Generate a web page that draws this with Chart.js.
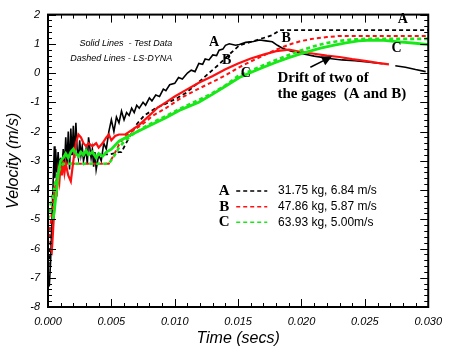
<!DOCTYPE html>
<html>
<head>
<meta charset="utf-8">
<script src="https://cdn.jsdelivr.net/npm/chart.js@4/dist/chart.umd.min.js"></script>
<style>
  body { margin: 0; background: #fff; }
  canvas { display: block; }
</style>
</head>
<body>
<canvas id="velocityChart" width="450" height="353"></canvas>
<script>
// times in milliseconds, velocities in m/s

// A - test data (black solid); null = gap in the trace
const timeA = [0.1, 0.2, 0.3, 0.4, 0.5, 0.55, 0.6, 0.7, 0.8, 0.9, 1.0, 1.1, 1.2, 1.3, 1.4, 1.5, 1.6, 1.7, 1.8, 1.9,
  2.0, 2.1, 2.2, 2.3, 2.4, 2.5, 2.6, 2.7, 2.8, 3.0, 3.1, 3.2, 3.4, 3.5, 3.6, 3.7, 3.8, 4.0, 4.2, 4.4,
  4.6, 4.8, 5.0, 5.2, 5.4, 5.6, 5.8, 6.0, 6.2, 6.4, 6.6, 6.8, 7.0, 7.2, 7.5, 7.7, 8.0, 8.2, 8.5, 8.8,
  9.1, 9.3, 9.6, 10.0, 10.3, 10.6, 11.0, 11.3, 11.6, 11.9, 12.2, 12.4, 12.7, 13.0, 13.3, 13.5, 13.8, 14.0, 14.3, 14.8,
  15.1, 15.6, 16.2, 16.7, 17.2, 17.7, 18.1, 18.5, 19.2, 20.0, 21.0, 22.2, 23.2, 24.2, 25.2, 26.4, 26.9, 27.4, 28.2, 29.0,
  29.8];
const velA = [-7.3, -6.5, -5.2, -3.8, -2.5, -3.6, -2.6, -3.4, -2.7, -3.5, -2.9, -3.4, -2.6, -3.2, -2.2, -3.1, -2.0, -3.3, -1.9, -2.8,
  -1.8, -2.9, -1.7, -2.6, -2.9, -2.3, -2.8, -2.5, -3.0, -2.6, -3.1, -2.2, -2.9, -2.6, -3.2, -2.7, -3.3, -2.8, -3.0, -2.4,
  -2.6, -2.0, -1.6, -2.0, -1.5, -1.7, -1.3, -1.6, -1.35, -1.45, -1.2, -1.35, -1.1, -1.2, -1.0, -1.1, -0.85, -0.95, -0.75, -0.8,
  -0.55, -0.6, -0.4, -0.35, -0.15, -0.2, 0.0, 0.1, 0.05, 0.33, 0.3, 0.48, 0.45, 0.62, 0.6, 0.78, 0.82, 0.95, 1.0, 0.95,
  0.98, 1.05, 1.08, 1.13, 1.1, 1.07, 0.95, 0.85, 0.75, 0.67, 0.58, 0.5, 0.45, 0.42, 0.38, 0.32, null, 0.25, 0.2, 0.12,
  0.05];

// A - LS-DYNA (black dashed)
const timeASim = [0, 0.3, 0.6, 0.9, 1.2, 4.8, 5.2, 5.6, 5.8, 6.4, 7.0, 7.6, 8.5, 9.3, 10.2, 10.9, 11.8, 12.7, 13.5, 14.2,
  15.1, 16.1, 17.0, 17.7, 18.3, 30.0];
const velASim = [-6.84, -5.3, -3.9, -3.0, -2.78, -2.78, -2.75, -2.7, -2.7, -2.2, -1.75, -1.45, -1.2, -1.05, -0.85, -0.67, -0.35, 0.0, 0.3, 0.6,
  0.95, 1.08, 1.2, 1.3, 1.47, 1.47];

// B - test data (red solid)
const timeB = [0.2, 0.3, 0.4, 0.5, 0.6, 0.7, 0.8, 0.9, 1.0, 1.1, 1.2, 1.3, 1.4, 1.6, 1.8, 2.0, 2.2, 2.4, 2.6, 2.8,
  3.0, 3.2, 3.5, 3.8, 4.0, 4.3, 4.6, 4.8, 5.0, 5.3, 5.6, 6.1, 6.6, 7.2, 8.0, 8.6, 9.3, 10.0, 10.8, 11.9,
  13.0, 14.0, 15.0, 16.0, 17.0, 18.0, 19.0, 20.0, 21.0, 22.0, 23.0, 24.0, 25.0, 26.0, 26.9];
const velB = [-6.0, -6.1, -5.4, -4.6, -4.0, -4.1, -3.4, -3.7, -3.1, -3.5, -3.0, -3.4, -3.1, -3.5, -3.7, -3.0, -2.4, -2.1, -2.2, -2.4,
  -2.5, -2.4, -2.5, -2.4, -2.55, -2.4, -2.2, -2.1, -2.3, -2.15, -2.1, -2.1, -1.95, -1.77, -1.45, -1.2, -1.0, -0.8, -0.6, -0.33,
  -0.1, 0.13, 0.33, 0.5, 0.63, 0.75, 0.8, 0.72, 0.66, 0.6, 0.55, 0.48, 0.42, 0.35, 0.3];

// B - LS-DYNA (red dashed)
const timeBSim = [0, 0.3, 0.6, 0.9, 1.2, 4.8, 5.2, 5.6, 6.0, 6.6, 7.4, 8.3, 9.3, 10.5, 11.9, 13.0, 14.0, 15.0, 16.0, 17.0,
  18.0, 19.0, 20.0, 21.0, 22.0, 23.0, 30.0];
const velBSim = [-5.87, -4.8, -3.8, -3.25, -3.1, -3.1, -2.8, -2.45, -2.2, -2.0, -1.77, -1.45, -1.2, -0.85, -0.53, -0.3, -0.08, 0.18, 0.4, 0.6,
  0.8, 0.97, 1.1, 1.18, 1.23, 1.27, 1.27];

// C - test data (green solid)
const timeC = [0.4, 0.5, 0.6, 0.7, 0.8, 0.9, 1.0, 1.2, 1.4, 1.6, 1.8, 2.0, 2.2, 2.4, 2.6, 2.8, 3.0, 3.2, 3.5, 3.8,
  4.0, 4.3, 4.6, 5.0, 5.6, 6.6, 8.0, 9.3, 10.5, 11.9, 13.0, 14.0, 15.1, 16.0, 17.0, 18.0, 19.0, 20.4, 21.5, 22.5,
  23.5, 24.5, 25.5, 26.5, 27.7, 29.0, 30.0];
const velC = [-5.0, -4.7, -4.3, -3.9, -3.5, -3.2, -3.0, -2.9, -2.75, -2.9, -2.7, -2.6, -2.75, -2.85, -2.7, -2.8, -2.65, -2.8, -2.7, -2.9,
  -2.75, -2.85, -2.7, -2.6, -2.33, -2.1, -1.8, -1.53, -1.25, -1.0, -0.72, -0.45, -0.15, 0.02, 0.2, 0.37, 0.53, 0.72, 0.85, 0.95,
  1.03, 1.1, 1.13, 1.12, 1.07, 1.02, 0.97];

// C - LS-DYNA (green dashed)
const timeCSim = [0, 0.3, 0.6, 0.9, 1.2, 4.8, 5.2, 5.6, 6.0, 6.6, 7.4, 8.3, 9.3, 10.5, 11.9, 13.0, 14.0, 15.0, 16.0, 17.0,
  18.0, 19.0, 20.0, 21.0, 22.0, 23.0, 24.0, 25.0, 30.0];
const velCSim = [-5.0, -4.3, -3.7, -3.3, -3.1, -3.1, -2.85, -2.55, -2.35, -2.12, -1.9, -1.68, -1.47, -1.2, -0.92, -0.68, -0.42, -0.1, 0.08, 0.27,
  0.45, 0.62, 0.78, 0.92, 1.03, 1.1, 1.15, 1.17, 1.17];

const xTickStep = 0.005;
const yTicks = [2, 1, 0, -1, -2, -3, -4, -5, -6, -7, -8];

const legendLetters = ['A', 'B', 'C'];
const legendTexts = ['31.75 kg, 6.84 m/s', '47.86 kg, 5.87 m/s', '63.93 kg, 5.00m/s'];

const BLACK = '#000000';
const RED = '#ff1010';
const GREEN = '#18e818';

function toPoints(times, vals) {
  return times.map((t, i) => ({ x: t / 1000, y: vals[i] }));
}

function line(times, vals, color, width, dashed, order) {
  return {
    data: toPoints(times, vals),
    borderColor: color,
    borderWidth: width,
    borderDash: dashed ? [4, 3] : [],
    pointRadius: 0,
    tension: 0,
    spanGaps: false,
    order: order
  };
}

// frame with inward major/minor ticks on all four sides
const frameTicks = {
  id: 'frameTicks',
  afterDatasetsDraw(chart) {
    const { ctx, chartArea: a, scales: { x, y } } = chart;
    ctx.save();
    ctx.strokeStyle = '#000';
    ctx.lineWidth = 1;
    ctx.beginPath();
    for (let i = 0; i <= 30; i++) {
      const px = Math.round(x.getPixelForValue(i / 1000)) + 0.5;
      const len = i % 5 === 0 ? 8 : 4;
      ctx.moveTo(px, a.bottom); ctx.lineTo(px, a.bottom - len);
      ctx.moveTo(px, a.top); ctx.lineTo(px, a.top + len);
    }
    for (let i = -40; i <= 10; i++) {
      const py = Math.round(y.getPixelForValue(i / 5)) + 0.5;
      const len = i % 5 === 0 ? 8 : 4;
      ctx.moveTo(a.left, py); ctx.lineTo(a.left + len, py);
      ctx.moveTo(a.right, py); ctx.lineTo(a.right - len, py);
    }
    ctx.stroke();
    ctx.lineWidth = 2;
    ctx.strokeRect(a.left, a.top, a.width, a.height);
    ctx.restore();
  }
};

// text notes, curve letters, the arrow and the inner legend
const notes = {
  id: 'notes',
  afterDraw(chart) {
    const { ctx, scales: { x, y } } = chart;
    const px = t => x.getPixelForValue(t / 1000);
    const py = v => y.getPixelForValue(v);
    ctx.save();
    ctx.fillStyle = '#000';
    ctx.textBaseline = 'middle';

    ctx.font = 'italic 9px "Liberation Sans", Arial, sans-serif';
    ctx.textAlign = 'right';
    ctx.fillText('Solid Lines  - Test Data', px(9.8), py(1.0));
    ctx.fillText('Dashed Lines - LS-DYNA', px(9.8), py(0.5));

    ctx.font = 'bold 14px "Liberation Serif", "Times New Roman", serif';
    ctx.textAlign = 'center';
    ctx.fillText('A', px(13.1), py(1.05));
    ctx.fillText('B', px(14.1), py(0.45));
    ctx.fillText('C', px(15.6), py(0.0));
    ctx.fillText('A', px(28.0), py(1.85));
    ctx.fillText('B', px(18.8), py(1.2));
    ctx.fillText('C', px(27.5), py(0.85));

    ctx.font = 'bold 15px "Liberation Serif", "Times New Roman", serif';
    ctx.textAlign = 'left';
    ctx.fillText('Drift of two of', px(18.1), py(-0.17));
    ctx.fillText('the gages  (A and B)', px(18.1), py(-0.73));

    // arrow
    const x0 = px(20.7), y0 = py(0.2), x1 = px(22.4), y1 = py(0.57);
    const ang = Math.atan2(y1 - y0, x1 - x0);
    ctx.strokeStyle = '#000';
    ctx.lineWidth = 1.5;
    ctx.beginPath();
    ctx.moveTo(x0, y0);
    ctx.lineTo(x1 - 6 * Math.cos(ang), y1 - 6 * Math.sin(ang));
    ctx.stroke();
    ctx.beginPath();
    ctx.moveTo(x1, y1);
    ctx.lineTo(x1 - 10 * Math.cos(ang) + 5 * Math.sin(ang), y1 - 10 * Math.sin(ang) - 5 * Math.cos(ang));
    ctx.lineTo(x1 - 10 * Math.cos(ang) - 5 * Math.sin(ang), y1 - 10 * Math.sin(ang) + 5 * Math.cos(ang));
    ctx.closePath();
    ctx.fill();

    // inner legend
    const colors = [BLACK, RED, GREEN];
    const rowV = [-4.03, -4.57, -5.1];
    legendLetters.forEach((letter, i) => {
      const yy = py(rowV[i]);
      ctx.font = 'bold 15px "Liberation Serif", "Times New Roman", serif';
      ctx.textAlign = 'center';
      ctx.fillStyle = '#000';
      ctx.fillText(letter, px(13.9), yy);
      ctx.strokeStyle = colors[i];
      ctx.lineWidth = 1.5;
      ctx.setLineDash([4, 3]);
      ctx.beginPath();
      ctx.moveTo(px(14.85), yy);
      ctx.lineTo(px(17.3), yy);
      ctx.stroke();
      ctx.setLineDash([]);
      ctx.font = '12px "Liberation Sans", Arial, sans-serif';
      ctx.textAlign = 'left';
      ctx.fillText(legendTexts[i], px(18.15), yy);
    });
    ctx.restore();
  }
};

const ctx = document.getElementById('velocityChart').getContext('2d');
const velocityChart = new Chart(ctx, {
  type: 'line',
  data: {
    datasets: [
      line(timeA, velA, BLACK, 1.6, false, 6),
      line(timeASim, velASim, BLACK, 1.8, true, 5),
      line(timeB, velB, RED, 2.2, false, 4),
      line(timeBSim, velBSim, RED, 2, true, 3),
      line(timeC, velC, GREEN, 2.8, false, 2),
      line(timeCSim, velCSim, GREEN, 2.6, true, 1)
    ]
  },
  options: {
    responsive: false,
    animation: false,
    layout: { padding: { top: 7, right: 20, left: 0, bottom: 0 } },
    plugins: { legend: { display: false }, tooltip: { enabled: false } },
    scales: {
      x: {
        type: 'linear',
        min: 0,
        max: 0.03,
        grid: { display: false, drawTicks: false },
        border: { display: false },
        ticks: {
          stepSize: xTickStep,
          maxRotation: 0,
          padding: 8,
          color: '#000',
          font: { family: '"Liberation Sans", Arial, sans-serif', size: 11, style: 'italic' },
          callback: v => v.toFixed(3)
        },
        title: {
          display: true,
          text: 'Time (secs)',
          color: '#000',
          padding: { top: 0, bottom: 5 },
          font: { family: '"Liberation Sans", Arial, sans-serif', size: 16, style: 'italic' }
        },
        afterFit: s => { s.height = 46; }
      },
      y: {
        min: yTicks[yTicks.length - 1],
        max: yTicks[0],
        grid: { display: false, drawTicks: false },
        border: { display: false },
        ticks: {
          stepSize: 1,
          padding: 8,
          color: '#000',
          font: { family: '"Liberation Sans", Arial, sans-serif', size: 11, style: 'italic' }
        },
        title: {
          display: true,
          text: 'Velocity (m/s)',
          color: '#000',
          padding: { top: 4, bottom: 0 },
          font: { family: '"Liberation Sans", Arial, sans-serif', size: 16, style: 'italic' }
        },
        afterFit: s => { s.width = 48; }
      }
    }
  },
  plugins: [frameTicks, notes]
});
</script>
</body>
</html>
